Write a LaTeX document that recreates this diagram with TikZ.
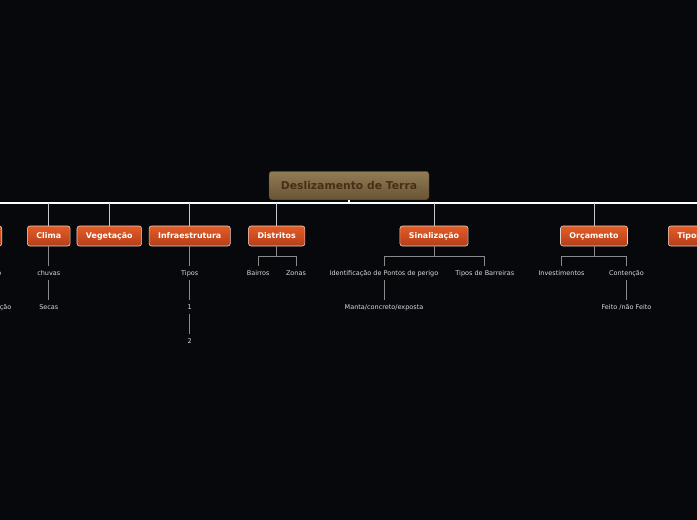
\documentclass[tikz,border=0pt]{standalone}
\usepackage{fontspec}
\setmainfont{DejaVu Sans}
\usetikzlibrary{positioning,calc}
\definecolor{bgdark}{RGB}{6,8,11}
\definecolor{roottop}{RGB}{146,124,86}
\definecolor{rootbot}{RGB}{104,84,52}
\definecolor{roottext}{RGB}{70,46,24}
\definecolor{subtop}{RGB}{228,92,38}
\definecolor{subbot}{RGB}{180,62,26}
\definecolor{subedge}{RGB}{226,210,200}
\definecolor{leaftext}{RGB}{218,218,218}
\definecolor{linkgray}{RGB}{138,138,138}
\definecolor{stubgray}{RGB}{200,200,200}

\begin{document}
\begin{tikzpicture}[x=1pt,y=-1pt,
  topic/.style={rectangle, draw=rootbot!70!black, top color=roottop, bottom color=rootbot, rounded corners=3pt, minimum width=160pt, minimum height=28.5pt, font=\fontsize{10.8}{12}\selectfont\bfseries, text=roottext},
  sub/.style={rectangle, draw=subedge, line width=0.6pt, top color=subtop, bottom color=subbot, rounded corners=2.5pt, minimum height=20pt, inner xsep=9pt, font=\fontsize{7.9}{9}\selectfont\bfseries, text=white},
  leaf/.style={font=\fontsize{6.5}{8}\selectfont, text=leaftext, inner xsep=1pt, text height=6.5pt, text depth=1pt, minimum height=13pt},
  bus/.style={draw=white, line width=1.3pt},
  stub/.style={draw=stubgray, line width=1pt},
  link/.style={draw=linkgray, line width=0.9pt}
]
\fill[bgdark] (0,0) rectangle (697,520);
\clip (0,0) rectangle (697,520);

% main topic and bus line
\node[topic] (root) at (349,185.5) {Deslizamento de Terra};
\coordinate (busL) at (0,203);
\coordinate (busR) at (697,203);
\draw[bus] (busL) -- (busR);
\draw[bus] (root.south) -- (root.south |- busL);

% subtopics
\node[sub, minimum width=60pt, anchor=east] (leftn) at (2,236) {};
\node[sub] (clima) at (48.8,236) {Clima};
\node[sub] (veg) at (109.3,236) {Vegetação};
\node[sub] (infra) at (189.7,236) {Infraestrutura};
\node[sub] (distr) at (276.7,236) {Distritos};
\node[sub] (sinal) at (434,236) {Sinalização};
\node[sub] (orc) at (594,236) {Orçamento};
\node[sub, anchor=west] (tiposn) at (668,236) {Tipos};
\foreach \n in {clima,veg,infra,distr,sinal,orc}
  \draw[stub] (\n.north) -- (\n.north |- busL);

% leaves
\node[leaf, anchor=east] (lefta) at (2.5,273) {o};
\node[leaf, anchor=east] (leftb) at (12.5,307) {ção};

\node[leaf] (chuvas) at (48.8,273) {chuvas};
\node[leaf] (secas) at (48.8,307) {Secas};
\draw[link] (clima) -- (chuvas);
\draw[link] (chuvas) -- (secas);

\node[leaf] (tipos) at (189.7,273) {Tipos};
\node[leaf] (um) at (189.7,307) {1};
\node[leaf] (dois) at (189.7,341) {2};
\draw[link] (infra) -- (tipos);
\draw[link] (tipos) -- (um);
\draw[link] (um) -- (dois);

\node[leaf] (bairros) at (258.2,273) {Bairros};
\node[leaf] (zonas) at (296,273) {Zonas};
\coordinate (distrj) at ($(distr.south)+(0,10)$);
\draw[link] (distr.south) -- (distrj);
\draw[link] (bairros.north) |- (distrj) -| (zonas.north);

\node[leaf] (ident) at (384,273) {Identificação de Pontos de perigo};
\node[leaf] (barr) at (484.8,273) {Tipos de Barreiras};
\node[leaf] (manta) at (384,307) {Manta/concreto/exposta};
\coordinate (sinalj) at ($(sinal.south)+(0,10)$);
\draw[link] (sinal.south) -- (sinalj);
\draw[link] (ident.north) |- (sinalj) -| (barr.north);
\draw[link] (ident) -- (manta);

\node[leaf] (invest) at (561.5,273) {Investimentos};
\node[leaf] (conten) at (626.5,273) {Contenção};
\node[leaf] (feito) at (626.5,307) {Feito /não Feito};
\coordinate (orcj) at ($(orc.south)+(0,10)$);
\draw[link] (orc.south) -- (orcj);
\draw[link] (invest.north) |- (orcj) -| (conten.north);
\draw[link] (conten) -- (feito);
\end{tikzpicture}
\end{document}
